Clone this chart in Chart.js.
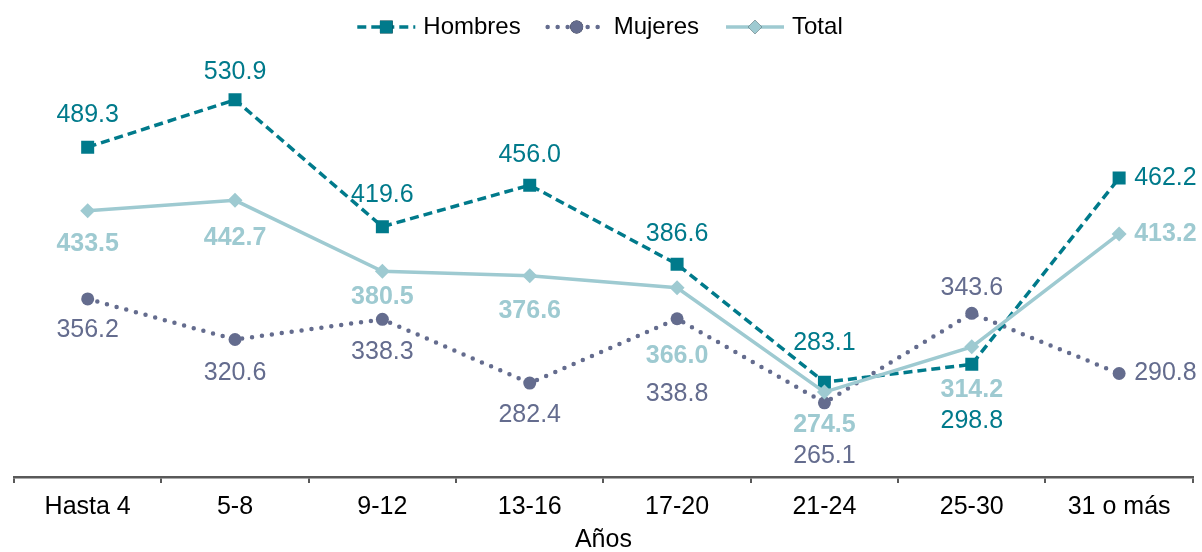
<!DOCTYPE html>
<html>
<head>
<meta charset="utf-8">
<script src="https://cdn.jsdelivr.net/npm/chart.js@4.4.1/dist/chart.umd.min.js"></script>
<style>
  html, body { margin: 0; padding: 0; background: #fff; }
  #wrap { width: 1202px; height: 552px; position: relative; }
</style>
</head>
<body>
<div id="wrap"><canvas id="myChart"></canvas></div>
<script>
// data
const categories = ['Hasta 4', '5-8', '9-12', '13-16', '17-20', '21-24', '25-30', '31 o más'];
const hombres = [489.3, 530.9, 419.6, 456.0, 386.6, 283.1, 298.8, 462.2];
const mujeres = [356.2, 320.6, 338.3, 282.4, 338.8, 265.1, 343.6, 290.8];
const total = [433.5, 442.7, 380.5, 376.6, 366.0, 274.5, 314.2, 413.2];

const HOMBRES_COLOR = '#007a8b';
const MUJERES_COLOR = '#646c8e';
const TOTAL_COLOR = '#9ecad1';
const AXIS_COLOR = '#595959';
const FONT = 'Liberation Sans, Arial, sans-serif';

// label placement: dy offset from the point, or 'r' = right of the point
const hombresLabelPos = [-32, -28, -32, -30, -30, -39, 57, 'r'];
const mujeresLabelPos = [31, 34, 33, 32, 75, 53, -25, 'r'];
const totalLabelPos = [33, 38, 26, 35, 68, 33, 43, 'r'];

const labelPlugin = {
  id: 'pointLabels',
  afterDatasetsDraw(chart) {
    const ctx = chart.ctx;
    chart.data.datasets.forEach((ds, di) => {
      const meta = chart.getDatasetMeta(di);
      ctx.save();
      ctx.font = (ds.labelBold ? 'bold ' : '') + '25px ' + FONT;
      ctx.fillStyle = ds.borderColor;
      ctx.textBaseline = 'middle';
      meta.data.forEach((pt, i) => {
        const pos = ds.labelPos[i];
        const txt = ds.data[i].toFixed(1);
        if (pos === 'r') {
          ctx.textAlign = 'left';
          ctx.fillText(txt, pt.x + 15, pt.y);
        } else {
          ctx.textAlign = 'center';
          ctx.fillText(txt, pt.x, pt.y + pos);
        }
      });
      ctx.restore();
    });
  }
};

const legendPlugin = {
  id: 'lineLegend',
  afterDraw(chart) {
    const ctx = chart.ctx;
    const items = chart.data.datasets.slice().sort((a, b) => a.legendIndex - b.legendIndex);
    const sampleW = 58, gapText = 8, gapItem = 27, y = 27;
    ctx.save();
    ctx.font = '24px ' + FONT;
    let totalW = 0;
    items.forEach((ds, i) => {
      totalW += sampleW + gapText + ctx.measureText(ds.label).width + (i < items.length - 1 ? gapItem : 0);
    });
    let x = 600 - totalW / 2;
    items.forEach(ds => {
      ctx.save();
      ctx.strokeStyle = ds.borderColor;
      ctx.lineWidth = ds.borderWidth;
      ctx.lineCap = ds.borderCapStyle || 'butt';
      ctx.setLineDash(ds.borderDash || []);
      ctx.beginPath();
      ctx.moveTo(x, y);
      ctx.lineTo(x + sampleW, y);
      ctx.stroke();
      ctx.restore();
      Chart.helpers.drawPoint(ctx, {
        pointStyle: ds.pointStyle,
        radius: ds.legendRadius,
        borderWidth: 0
      }, x + sampleW / 2, y);
      ctx.fillStyle = ds.borderColor;
      ctx.fill();
      ctx.fillStyle = '#000';
      ctx.textAlign = 'left';
      ctx.textBaseline = 'middle';
      ctx.fillText(ds.label, x + sampleW + gapText, y);
      x += sampleW + gapText + ctx.measureText(ds.label).width + gapItem;
    });
    ctx.restore();
  }
};

new Chart(document.getElementById('myChart'), {
  type: 'line',
  data: {
    labels: categories,
    datasets: [
      {
        label: 'Hombres',
        data: hombres,
        legendIndex: 0,
        order: 2,
        borderColor: HOMBRES_COLOR,
        backgroundColor: HOMBRES_COLOR,
        borderWidth: 3.5,
        borderDash: [9, 5],
        pointStyle: 'rect',
        pointRadius: 9.2,
        legendRadius: 9,
        pointBorderWidth: 0,
        labelPos: hombresLabelPos
      },
      {
        label: 'Mujeres',
        data: mujeres,
        legendIndex: 1,
        order: 3,
        borderColor: MUJERES_COLOR,
        backgroundColor: MUJERES_COLOR,
        borderWidth: 4.5,
        borderDash: [0, 10],
        borderCapStyle: 'round',
        pointStyle: 'circle',
        pointRadius: 6.5,
        legendRadius: 6.5,
        pointBorderWidth: 0,
        labelPos: mujeresLabelPos
      },
      {
        label: 'Total',
        data: total,
        legendIndex: 2,
        order: 1,
        borderColor: TOTAL_COLOR,
        backgroundColor: TOTAL_COLOR,
        borderWidth: 3.5,
        pointStyle: 'rectRot',
        pointRadius: 7.5,
        legendRadius: 7,
        pointBorderWidth: 0,
        labelBold: true,
        labelPos: totalLabelPos
      }
    ]
  },
  options: {
    responsive: true,
    maintainAspectRatio: false,
    animation: false,
    layout: { padding: { left: 14, right: 6, top: 21, bottom: 0 } },
    plugins: {
      legend: { display: false },
      tooltip: { enabled: false }
    },
    scales: {
      y: {
        display: false,
        min: 200,
        max: 600
      },
      x: {
        offset: true,
        grid: {
          display: true,
          offset: true,
          drawOnChartArea: false,
          drawTicks: true,
          tickLength: 6,
          color: AXIS_COLOR,
          lineWidth: 2
        },
        border: { display: true, color: AXIS_COLOR, width: 2.5 },
        ticks: {
          color: '#000',
          padding: 9,
          maxRotation: 0,
          font: { family: FONT, size: 25 }
        },
        title: {
          display: true,
          text: 'Años',
          color: '#000',
          padding: { top: 0, bottom: 2 },
          font: { family: FONT, size: 25, lineHeight: 0.8 }
        },
        afterFit(scale) { scale.height = 75; }
      }
    }
  },
  plugins: [labelPlugin, legendPlugin]
});
</script>
</body>
</html>
